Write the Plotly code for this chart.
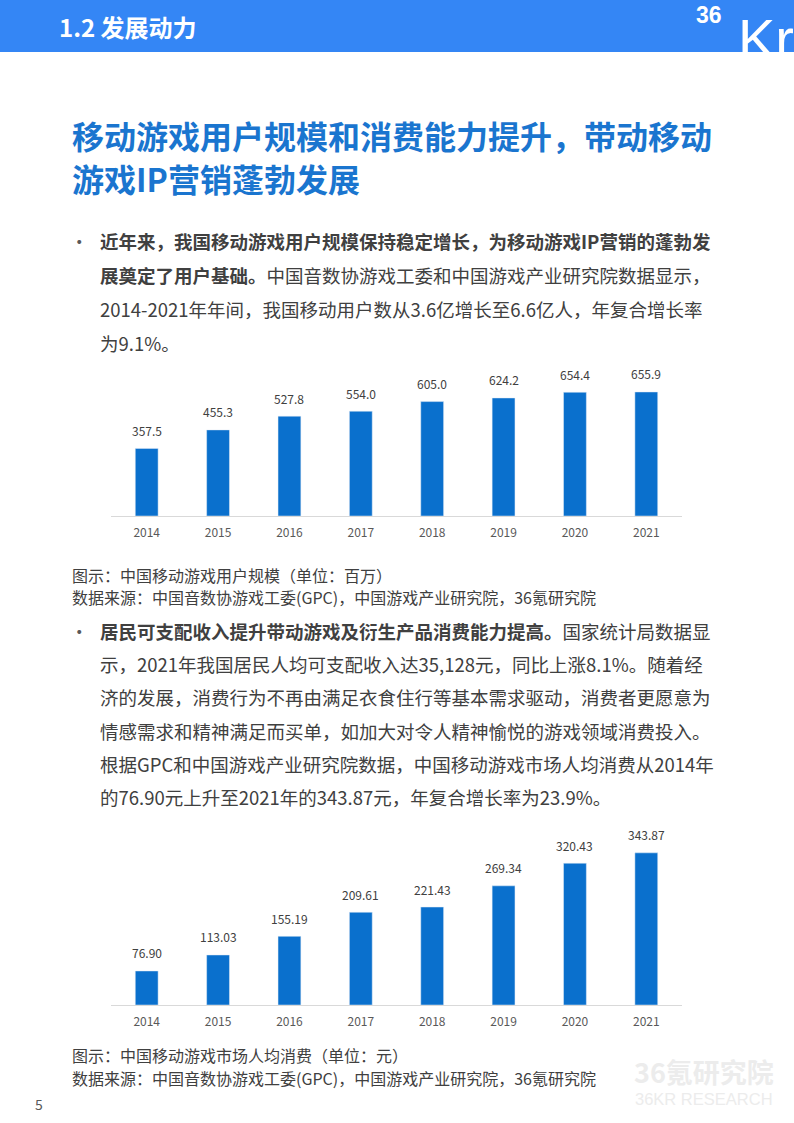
import plotly.graph_objects as go

W, H = 794, 1123

years = ["2014", "2015", "2016", "2017", "2018", "2019", "2020", "2021"]
users = [357.5, 455.3, 527.8, 554.0, 605.0, 624.2, 654.4, 655.9]
spend = [76.90, 113.03, 155.19, 209.61, 221.43, 269.34, 320.43, 343.87]

users_labels = ["%.1f" % v for v in users]
spend_labels = ["%.2f" % v for v in spend]

FONT = "Noto Sans CJK SC"
BAR = "#0a70cd"

para1 = [
    "<b>近年来，我国移动游戏用户规模保持稳定增长，为移动游戏IP营销的蓬勃发</b>",
    "<b>展奠定了用户基础。</b>中国音数协游戏工委和中国游戏产业研究院数据显示，",
    "2014-2021年年间，我国移动用户数从3.6亿增长至6.6亿人，年复合增长率",
    "为9.1%。",
]
para2 = [
    "<b>居民可支配收入提升带动游戏及衍生产品消费能力提高。</b>国家统计局数据显",
    "示，2021年我国居民人均可支配收入达35,128元，同比上涨8.1%。随着经",
    "济的发展，消费行为不再由满足衣食住行等基本需求驱动，消费者更愿意为",
    "情感需求和精神满足而买单，如加大对令人精神愉悦的游戏领域消费投入。",
    "根据GPC和中国游戏产业研究院数据，中国移动游戏市场人均消费从2014年",
    "的76.90元上升至2021年的343.87元，年复合增长率为23.9%。",
]
source = "数据来源：中国音数协游戏工委(GPC)，中国游戏产业研究院，36氪研究院"


def py(px):
    return 1 - px / H


def px_x(px):
    return px / W


fig = go.Figure()
ann = []

for xa, ya, vals, labels in [("x", "y", users, users_labels),
                             ("x2", "y2", spend, spend_labels)]:
    fig.add_trace(go.Bar(
        x=years, y=vals, marker_color=BAR,
        xaxis=xa, yaxis=ya, hoverinfo="x+y",
    ))
    # value labels sit a little above each bar (x given as category index)
    for i, (v, lab) in enumerate(zip(vals, labels)):
        ann.append(dict(
            x=i, y=v, xref=xa, yref=ya, text=lab, showarrow=False,
            yanchor="middle", yshift=18,
            font=dict(size=12, color="#404040", family=FONT),
        ))

axis_x = dict(
    type="category", range=[-0.5, len(years) - 0.5],
    showline=True, linecolor="#d9d9d9", linewidth=1, showgrid=False,
    ticks="outside", ticklen=6, tickcolor="rgba(0,0,0,0)",
    tickfont=dict(size=12, color="#595959", family=FONT), fixedrange=True,
)
axis_y = dict(visible=False, showgrid=False, zeroline=False, fixedrange=True)


def text(x, y, s, size, color, bold=False, anchor="left", family=FONT):
    ann.append(dict(
        x=px_x(x), y=py(y), xref="paper", yref="paper", showarrow=False,
        xanchor=anchor, yanchor="middle", align="left",
        text="<b>%s</b>" % s if bold else s,
        font=dict(size=size, color=color, family=family),
    ))


# header
text(57, 27, "1.2 发展动力", 24, "white", bold=True)
text(694, 15, "36", 23, "white", bold=True, family="Liberation Sans")
text(736, 38, "Kr", 56, "white", family="Liberation Sans")

# title
text(70, 135, "移动游戏用户规模和消费能力提升，带动移动", 32, "#1a75cf", bold=True)
text(70, 177.5, "游戏IP营销蓬勃发展", 32, "#1a75cf", bold=True)

# paragraph 1
text(68, 241, "•", 18.5, "#595959")
for i, line in enumerate(para1):
    text(98, 241 + i * 34, line, 18.5, "#404040")

text(70, 575, "图示：中国移动游戏用户规模（单位：百万）", 16, "#404040")
text(70, 597, source, 16, "#404040")

# paragraph 2
text(68, 631, "•", 18.5, "#595959")
for i, line in enumerate(para2):
    text(98, 631 + i * 33.2, line, 18.5, "#404040")

text(70, 1055, "图示：中国移动游戏市场人均消费（单位：元）", 16, "#404040")
text(70, 1078, source, 16, "#404040")

# footer
text(33, 1104, "5", 14, "#595959")
text(704, 1071, "36氪研究院", 27, "#ececec", bold=True, anchor="center")
text(704, 1099, "36KR RESEARCH", 16.5, "#ececec", anchor="center",
     family="Liberation Sans")

fig.update_layout(
    width=W, height=H,
    margin=dict(l=0, r=0, t=0, b=0),
    paper_bgcolor="white", plot_bgcolor="white",
    showlegend=False, bargap=0.68,
    xaxis=dict(domain=[px_x(111), px_x(682)], anchor="y", **axis_x),
    yaxis=dict(domain=[py(516), py(370)], range=[0, 772], anchor="x", **axis_y),
    xaxis2=dict(domain=[px_x(111), px_x(682)], anchor="y2", **axis_x),
    yaxis2=dict(domain=[py(1005), py(828)], range=[0, 400], anchor="x2", **axis_y),
    annotations=ann,
    shapes=[
        dict(type="rect", xref="paper", yref="paper", x0=0, x1=1,
             y0=py(52), y1=1, fillcolor="#3486f5", line_width=0, layer="below"),
    ],
    font=dict(family=FONT),
)

fig.write_html("out.html", config={"displayModeBar": False},
               post_script="document.body.style.margin='0';")
